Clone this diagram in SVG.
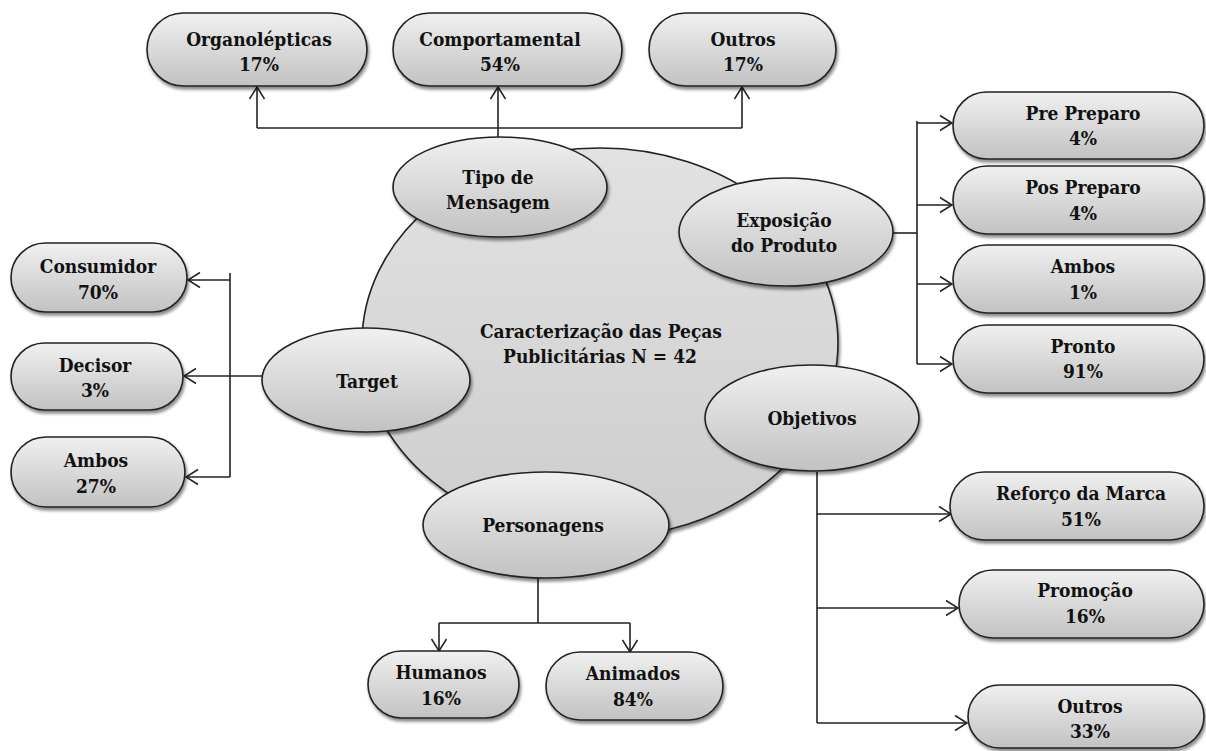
<svg xmlns="http://www.w3.org/2000/svg" width="1206" height="751" viewBox="0 0 1206 751">
<defs>
<linearGradient id="gb" x1="0" y1="0" x2="0" y2="1">
<stop offset="0" stop-color="#f0f0f0"/>
<stop offset="1" stop-color="#c2c2c2"/>
</linearGradient>
<linearGradient id="gc" x1="0" y1="0" x2="0" y2="1">
<stop offset="0" stop-color="#e2e2e2"/>
<stop offset="1" stop-color="#cdcdcd"/>
</linearGradient>
<filter id="sh" x="-10%" y="-10%" width="130%" height="140%">
<feDropShadow dx="1.5" dy="3" stdDeviation="1.5" flood-color="#000" flood-opacity="0.45"/>
</filter>
<marker id="ar" markerUnits="userSpaceOnUse" markerWidth="14" markerHeight="16" refX="12" refY="7.5" orient="auto" overflow="visible">
<path d="M0,0 L12,7.5 L0,15" fill="none" stroke="#222" stroke-width="1.5"/>
</marker>
</defs>
<style>
.box{fill:url(#gb);stroke:#222;stroke-width:1.6;filter:url(#sh)}
.ell{fill:url(#gb);stroke:#222;stroke-width:1.6;filter:url(#sh)}
.big{fill:url(#gc);stroke:#222;stroke-width:1.6;filter:url(#sh)}
text{font-family:"DejaVu Serif Condensed","DejaVu Serif",serif;font-weight:bold;font-size:19px;fill:#111;text-anchor:middle}
.ln{fill:none;stroke:#222;stroke-width:1.6}
.la{fill:none;stroke:#222;stroke-width:1.6;marker-end:url(#ar)}
</style>
<rect width="1206" height="751" fill="#fff"/>

<g id="center">
<ellipse class="big" cx="600" cy="343" rx="238" ry="195"/>
<text x="601" y="338">Caracterização das Peças</text>
<text x="600" y="363">Publicitárias N = 42</text>
</g>

<g id="connectors">
<path class="ln" d="M257,128 H742"/>
<path class="la" d="M257,128 V87"/>
<path class="la" d="M498,137 V87"/>
<path class="la" d="M742,128 V87"/>
<path class="ln" d="M230,273 V477"/>
<path class="la" d="M230,280 H188"/>
<path class="la" d="M262,376 H184"/>
<path class="la" d="M230,477 H186"/>
<path class="ln" d="M893,233 H917"/>
<path class="ln" d="M917,121 V364"/>
<path class="la" d="M917,123 H952"/>
<path class="la" d="M917,205 H952"/>
<path class="la" d="M917,284 H952"/>
<path class="la" d="M917,364 H952"/>
<path class="ln" d="M817,472 V723"/>
<path class="la" d="M817,514 H951"/>
<path class="la" d="M817,608 H958"/>
<path class="la" d="M817,723 H967"/>
<path class="ln" d="M538,578 V623 M439,623 H630"/>
<path class="la" d="M439,623 V651"/>
<path class="la" d="M630,623 V652"/>
</g>

<g id="tipo">
<ellipse class="ell" cx="500" cy="187" rx="107" ry="50"/>
<text x="498" y="184">Tipo de</text>
<text x="498" y="209">Mensagem</text>
</g>
<g id="target">
<ellipse class="ell" cx="366" cy="380" rx="104" ry="52"/>
<text x="367" y="388">Target</text>
</g>
<g id="exposicao">
<ellipse class="ell" cx="786" cy="232" rx="107" ry="54"/>
<text x="784" y="227">Exposição</text>
<text x="784" y="252">do Produto</text>
</g>
<g id="objetivos">
<ellipse class="ell" cx="812" cy="418" rx="107" ry="53"/>
<text x="812" y="425">Objetivos</text>
</g>
<g id="personagens">
<ellipse class="ell" cx="546" cy="525" rx="123" ry="53"/>
<text x="543" y="532">Personagens</text>
</g>

<g id="organolepticas">
<rect class="box" x="147" y="13" width="220" height="73" rx="36.5"/>
<text x="259" y="46">Organolépticas</text>
<text x="259" y="71">17%</text>
</g>
<g id="comportamental">
<rect class="box" x="393" y="13" width="229" height="73" rx="36.5"/>
<text x="500" y="46">Comportamental</text>
<text x="500" y="71">54%</text>
</g>
<g id="outros-msg">
<rect class="box" x="649" y="13" width="187" height="73" rx="36.5"/>
<text x="743" y="46">Outros</text>
<text x="743" y="71">17%</text>
</g>

<g id="consumidor">
<rect class="box" x="11" y="243" width="176" height="69" rx="34.5"/>
<text x="98" y="273">Consumidor</text>
<text x="98" y="299">70%</text>
</g>
<g id="decisor">
<rect class="box" x="11" y="343" width="172" height="67" rx="33.5"/>
<text x="95" y="372">Decisor</text>
<text x="95" y="397">3%</text>
</g>
<g id="ambos-target">
<rect class="box" x="11" y="437" width="174" height="70" rx="35"/>
<text x="96" y="467">Ambos</text>
<text x="96" y="493">27%</text>
</g>

<g id="pre-preparo">
<rect class="box" x="953" y="92" width="251" height="67" rx="33.5"/>
<text x="1083" y="120">Pre Preparo</text>
<text x="1083" y="145">4%</text>
</g>
<g id="pos-preparo">
<rect class="box" x="953" y="166" width="251" height="68" rx="34"/>
<text x="1083" y="194">Pos Preparo</text>
<text x="1083" y="220">4%</text>
</g>
<g id="ambos-exp">
<rect class="box" x="953" y="245" width="251" height="68" rx="34"/>
<text x="1083" y="273">Ambos</text>
<text x="1083" y="299">1%</text>
</g>
<g id="pronto">
<rect class="box" x="953" y="325" width="251" height="68" rx="34"/>
<text x="1083" y="353">Pronto</text>
<text x="1083" y="378">91%</text>
</g>

<g id="reforco">
<rect class="box" x="950" y="472" width="254" height="68" rx="34"/>
<text x="1081" y="500">Reforço da Marca</text>
<text x="1081" y="526">51%</text>
</g>
<g id="promocao">
<rect class="box" x="959" y="570" width="245" height="68" rx="34"/>
<text x="1085" y="597">Promoção</text>
<text x="1085" y="623">16%</text>
</g>
<g id="outros-obj">
<rect class="box" x="968" y="685" width="236" height="63" rx="31.5"/>
<text x="1090" y="713">Outros</text>
<text x="1090" y="738">33%</text>
</g>

<g id="humanos">
<rect class="box" x="368" y="651" width="151" height="67" rx="33.5"/>
<text x="441" y="679">Humanos</text>
<text x="441" y="705">16%</text>
</g>
<g id="animados">
<rect class="box" x="546" y="652" width="177" height="68" rx="34"/>
<text x="633" y="680">Animados</text>
<text x="633" y="706">84%</text>
</g>
</svg>
